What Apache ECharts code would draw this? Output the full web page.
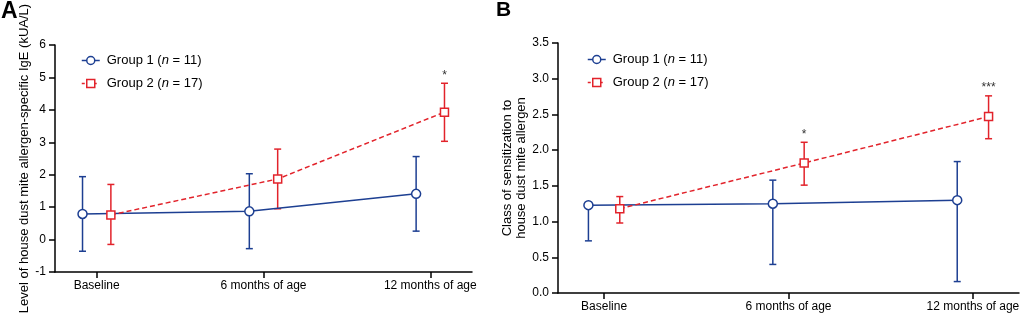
<!DOCTYPE html>
<html lang="en">
<head>
    <meta charset="UTF-8">
    <title>House dust mite IgE</title>
    <style>
        * { margin: 0; padding: 0; }
        html, body, #chart { width: 100%; height: 100%; overflow: hidden; background: #fff; }
    </style>
</head>
<body>
    <div id="chart"></div>
    <script src="https://cdn.jsdelivr.net/npm/echarts@6/dist/echarts.min.js"></script>
    <script>
        // categories on the x axis (placed at 0, 1, 2)
        let categories = ['Baseline', '6 months of age', '12 months of age'];
        let catPos = [0, 1, 2];
        let groupNames = ['Group 1', 'Group 2'];
        let groupN = [11, 17];

        // panel A: specific IgE (kUA/L), mean with lower / upper error bar ends
        let aMean1 = [0.79, 0.87, 1.41];
        let aLow1 = [-0.36, -0.28, 0.26];
        let aHigh1 = [1.94, 2.03, 2.56];
        let aMean2 = [0.76, 1.87, 3.93];
        let aLow2 = [-0.15, 0.95, 3.03];
        let aHigh2 = [1.70, 2.79, 4.82];
        let aSig = ['', '', '*'];

        // panel B: class of sensitization
        let bMean1 = [1.23, 1.25, 1.30];
        let bLow1 = [0.73, 0.40, 0.16];
        let bHigh1 = [1.23, 1.58, 1.84];
        let bMean2 = [1.18, 1.82, 2.47];
        let bLow2 = [0.98, 1.51, 2.16];
        let bHigh2 = [1.35, 2.11, 2.76];
        let bSig = ['', '*', '***'];

        let blue = '#1d3f92';
        let red = '#e2232b';
        let font = 'Liberation Sans, Arial, sans-serif';
        let dodge = 0.085; // groups are shifted left / right of each tick

        let xs1 = catPos.map(p => p - dodge);
        let xs2 = catPos.map(p => p + dodge);
        let colors = [blue, red];

        function xAxis(gridIndex) {
            return {
                type: 'value',
                gridIndex: gridIndex,
                min: -0.25,
                max: 2.25,
                splitLine: { show: false },
                axisLine: { onZero: false, lineStyle: { color: '#000', width: 1.5 } },
                axisTick: { customValues: catPos, length: 6, lineStyle: { color: '#000', width: 1.5 } },
                axisLabel: {
                    customValues: catPos,
                    formatter: v => categories[Math.round(v)],
                    color: '#000', fontSize: 12, fontFamily: font, margin: 8
                }
            };
        }

        function lineSeries(name, xi, yi, xs, means, color, symbol, dashed) {
            return {
                name: name,
                type: 'line',
                xAxisIndex: xi,
                yAxisIndex: yi,
                z: 3,
                data: xs.map((x, i) => [x, means[i]]),
                symbol: symbol,
                symbolSize: symbol === 'circle' ? 9 : 8,
                showAllSymbol: true,
                color: color,
                itemStyle: { color: '#fff', borderColor: color, borderWidth: 1.5 },
                lineStyle: { color: color, width: 1.5, type: dashed ? [5, 3] : 'solid' },
                emphasis: { disabled: true },
                animation: false
            };
        }

        function errorBars(xi, yi, xs, lows, highs, color) {
            return {
                type: 'custom',
                xAxisIndex: xi,
                yAxisIndex: yi,
                z: 2,
                silent: true,
                encode: { x: 0, y: [1, 2] },
                data: xs.map((x, i) => [x, lows[i], highs[i]]),
                renderItem: function(params, api) {
                    let x = api.value(0);
                    let lo = api.coord([x, api.value(1)]);
                    let hi = api.coord([x, api.value(2)]);
                    let w = 3.5;
                    let style = { stroke: color, lineWidth: 1.5 };
                    return {
                        type: 'group',
                        children: [
                            { type: 'line', shape: { x1: lo[0], y1: lo[1], x2: hi[0], y2: hi[1] }, style: style },
                            { type: 'line', shape: { x1: lo[0] - w, y1: lo[1], x2: lo[0] + w, y2: lo[1] }, style: style },
                            { type: 'line', shape: { x1: hi[0] - w, y1: hi[1], x2: hi[0] + w, y2: hi[1] }, style: style }
                        ]
                    };
                },
                animation: false
            };
        }

        function sigMarks(xi, yi, xs, highs, sig) {
            return {
                type: 'custom',
                xAxisIndex: xi,
                yAxisIndex: yi,
                z: 4,
                silent: true,
                encode: { x: 0, y: 1 },
                data: xs.map((x, i) => [x, highs[i]]),
                renderItem: function(params, api) {
                    let p = api.coord([api.value(0), api.value(1)]);
                    return {
                        type: 'text',
                        x: p[0],
                        y: p[1] - 2,
                        style: {
                            text: sig[params.dataIndex],
                            textAlign: 'center',
                            textVerticalAlign: 'bottom',
                            fontSize: 12,
                            fontFamily: font,
                            fill: '#333'
                        }
                    };
                },
                animation: false
            };
        }

        function legend(left, top) {
            return {
                orient: 'vertical',
                left: left,
                top: top,
                itemWidth: 18,
                itemHeight: 10,
                itemGap: 10,
                selectedMode: false,
                data: groupNames.map((name, i) => ({
                    name: name,
                    itemStyle: { color: '#fff', borderColor: colors[i], borderWidth: 1.5 },
                    lineStyle: { color: colors[i], width: 1.5, type: i === 1 ? [3, 3] : 'solid' }
                })),
                formatter: name => name + ' ({i|n} = ' + groupN[groupNames.indexOf(name)] + ')',
                textStyle: {
                    color: '#000', fontSize: 13, fontFamily: font, padding: [0, 0, 0, 2],
                    rich: { i: { fontStyle: 'italic', fontSize: 13, fontFamily: font, color: '#000' } }
                }
            };
        }

        function yAxis(gridIndex, min, max, interval, name, nameGap, fmt) {
            return {
                type: 'value',
                gridIndex: gridIndex,
                min: min,
                max: max,
                interval: interval,
                name: name,
                nameLocation: 'middle',
                nameRotate: 90,
                nameGap: nameGap,
                nameTextStyle: { color: '#000', fontSize: 13, fontFamily: font, lineHeight: 14 },
                splitLine: { show: false },
                axisLine: { show: true, onZero: false, lineStyle: { color: '#000', width: 1.5 } },
                axisTick: { show: true, length: 6, lineStyle: { color: '#000', width: 1.5 } },
                axisLabel: { color: '#000', fontSize: 12, fontFamily: font, margin: 9, formatter: fmt }
            };
        }

        let chart = echarts.init(document.getElementById('chart'));
        let option = {
            animation: false,
            textStyle: { fontFamily: font },
            graphic: [
                { type: 'text', left: 1, top: 0, style: { text: 'A', fontSize: 23, fontWeight: 'bold', fontFamily: font, fill: '#000' } },
                { type: 'text', left: 496, top: 0, style: { text: 'B', fontSize: 21, fontWeight: 'bold', fontFamily: font, fill: '#000' } }
            ],
            legend: [legend(76, 49), legend(582, 48)],
            grid: [
                { left: 55, top: 45, width: 417, height: 227 },
                { left: 558, top: 43, width: 461, height: 250 }
            ],
            xAxis: [xAxis(0), xAxis(1)],
            yAxis: [
                yAxis(0, -1, 6, 1, 'Level of house dust mite allergen-specific IgE (kUA/L)', 12, v => String(v)),
                yAxis(1, 0, 3.5, 0.5, 'Class of sensitization to\nhouse dust mite allergen', 14, v => v.toFixed(1))
            ],
            series: [
                errorBars(0, 0, xs1, aLow1, aHigh1, blue),
                errorBars(0, 0, xs2, aLow2, aHigh2, red),
                lineSeries('Group 1', 0, 0, xs1, aMean1, blue, 'circle', false),
                lineSeries('Group 2', 0, 0, xs2, aMean2, red, 'rect', true),
                sigMarks(0, 0, xs2, aHigh2, aSig),
                errorBars(1, 1, xs1, bLow1, bHigh1, blue),
                errorBars(1, 1, xs2, bLow2, bHigh2, red),
                lineSeries('Group 1', 1, 1, xs1, bMean1, blue, 'circle', false),
                lineSeries('Group 2', 1, 1, xs2, bMean2, red, 'rect', true),
                sigMarks(1, 1, xs2, bHigh2, bSig)
            ]
        };
        chart.setOption(option);
    </script>
</body>
</html>
